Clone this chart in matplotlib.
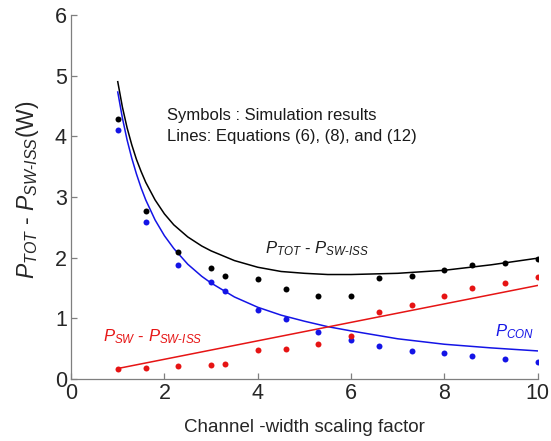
import matplotlib
matplotlib.use("Agg")
import matplotlib.pyplot as plt

plt.rcParams['font.family'] = ['Liberation Sans', 'DejaVu Sans']
plt.rcParams['mathtext.fontset'] = 'custom'
plt.rcParams['mathtext.rm'] = 'Liberation Sans'
plt.rcParams['mathtext.it'] = 'Liberation Sans:italic'
plt.rcParams['mathtext.bf'] = 'Liberation Sans:bold'

# Simulation results (symbols)
scale_sim = [1.0, 1.6, 2.3, 3.0, 3.3, 4.0, 4.6, 5.3, 6.0, 6.6, 7.3, 8.0, 8.6, 9.3, 10.0]
tot_sim = [4.29, 2.77, 2.09, 1.82, 1.70, 1.64, 1.48, 1.37, 1.36, 1.66, 1.70, 1.79, 1.87, 1.91, 1.97]
con_sim = [4.10, 2.58, 1.87, 1.59, 1.45, 1.14, 0.98, 0.77, 0.64, 0.54, 0.46, 0.42, 0.37, 0.32, 0.28]
sw_sim = [0.17, 0.18, 0.21, 0.23, 0.24, 0.47, 0.50, 0.58, 0.71, 1.10, 1.22, 1.37, 1.50, 1.58, 1.68]

# Model curves (lines)
scale_eq = [1.0, 1.1, 1.2, 1.3, 1.4, 1.5, 1.6, 1.8, 2.0, 2.2, 2.5, 2.8, 3.0, 3.5,
            4.0, 4.5, 5.0, 5.5, 6.0, 7.0, 8.0, 9.0, 10.0]
tot_eq = [4.90, 4.48, 4.14, 3.86, 3.62, 3.42, 3.24, 2.95, 2.72, 2.54, 2.34, 2.19,
          2.11, 1.95, 1.84, 1.77, 1.74, 1.72, 1.72, 1.74, 1.79, 1.88, 1.99]
con_eq = [4.73, 4.30, 3.94, 3.64, 3.38, 3.15, 2.95, 2.62, 2.36, 2.15, 1.89, 1.69,
          1.58, 1.35, 1.18, 1.05, 0.95, 0.86, 0.79, 0.66, 0.57, 0.51, 0.46]
scale_sw_eq = [1.0, 10.0]
sw_eq = [0.17, 1.54]

fig = plt.figure(figsize=(5.51, 4.41), dpi=100)
ax = fig.add_axes([0.129, 0.141, 0.847, 0.825])

blue = '#1414e6'
red = '#e61414'
ink = '#262626'

ax.plot(scale_eq, tot_eq, color='black', lw=1.1)
ax.plot(scale_eq, con_eq, color=blue, lw=1.1)
ax.plot(scale_sw_eq, sw_eq, color=red, lw=1.1)

ax.plot(scale_sim, tot_sim, 'o', color='black', ms=4.3, mec='none')
ax.plot(scale_sim, con_sim, 'o', color=blue, ms=4.3, mec='none')
ax.plot(scale_sim, sw_sim, 'o', color=red, ms=4.3, mec='none')

ax.set_xlim(0, 10)
ax.set_ylim(0, 6)
ax.set_xticks([0, 2, 4, 6, 8, 10])
ax.set_yticks([0, 1, 2, 3, 4, 5, 6])

for side in ('top', 'right'):
    ax.spines[side].set_visible(False)
for side in ('left', 'bottom'):
    ax.spines[side].set_color('#7f7f7f')
    ax.spines[side].set_linewidth(0.9)
ax.tick_params(direction='in', length=4, width=0.9, color='#7f7f7f',
               labelsize=15.5, labelcolor=ink, pad=3)

ax.set_xlabel('Channel -width scaling factor', fontsize=13.5, color=ink, labelpad=11)
ax.set_ylabel('$P_{TOT}$ - $P_{SW\u2010ISS}$(W)', fontsize=16.5, color=ink)
ax.yaxis.set_label_coords(-0.064, 0.52)

ax.text(2.06, 4.34, 'Symbols : Simulation results', fontsize=12, color='#1a1a1a',
        ha='left', va='center')
ax.text(2.06, 3.99, 'Lines: Equations (6), (8), and (12)', fontsize=12, color='#1a1a1a',
        ha='left', va='center')

ax.text(4.15, 2.14, '$P_{TOT}$ - $P_{SW\u2010ISS}$', fontsize=12, color='#1a1a1a',
        ha='left', va='center')
ax.text(0.69, 0.70, '$P_{SW}$ - $P_{SW\u2010ISS}$', fontsize=12, color=red,
        ha='left', va='center')
ax.text(9.09, 0.78, '$P_{CON}$', fontsize=12, color=blue, ha='left', va='center')

fig.savefig('out.png', dpi=100)
